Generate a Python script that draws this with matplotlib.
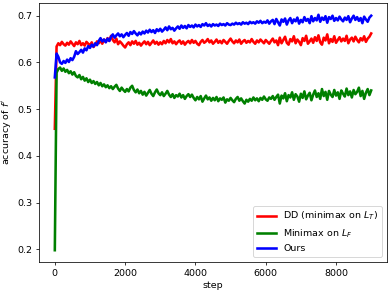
import numpy as np
import matplotlib
matplotlib.use("Agg")
import matplotlib.pyplot as plt

steps = np.arange(0, 9001, 50)

dd_acc = [
    0.458, 0.634, 0.641, 0.637, 0.644, 0.639, 0.636, 0.642, 0.638, 0.645,
    0.640, 0.635, 0.643, 0.639, 0.646, 0.637, 0.641, 0.636, 0.644, 0.640,
    0.637, 0.643, 0.633, 0.638, 0.645, 0.641, 0.647, 0.640, 0.649, 0.644,
    0.652, 0.646, 0.657, 0.648, 0.643, 0.651, 0.639, 0.645, 0.641, 0.636,
    0.632, 0.639, 0.643, 0.637, 0.645, 0.640, 0.646, 0.638, 0.642, 0.636,
    0.641, 0.645, 0.639, 0.644, 0.637, 0.642, 0.647, 0.640, 0.644, 0.638,
    0.643, 0.639, 0.646, 0.641, 0.648, 0.643, 0.650, 0.641, 0.645, 0.639,
    0.644, 0.647, 0.640, 0.645, 0.638, 0.643, 0.646, 0.641, 0.648, 0.642,
    0.646, 0.640, 0.637, 0.644, 0.648, 0.642, 0.645, 0.650, 0.643, 0.647,
    0.640, 0.644, 0.649, 0.642, 0.646, 0.641, 0.648, 0.644, 0.640, 0.646,
    0.651, 0.645, 0.641, 0.647, 0.643, 0.649, 0.640, 0.645, 0.648, 0.642,
    0.646, 0.643, 0.650, 0.644, 0.640, 0.647, 0.643, 0.649, 0.645, 0.641,
    0.648, 0.644, 0.640, 0.646, 0.651, 0.643, 0.647, 0.637, 0.653, 0.641,
    0.648, 0.655, 0.642, 0.638, 0.650, 0.645, 0.656, 0.641, 0.649, 0.644,
    0.637, 0.652, 0.646, 0.657, 0.640, 0.645, 0.651, 0.642, 0.654, 0.646,
    0.658, 0.643, 0.638, 0.653, 0.647, 0.660, 0.641, 0.650, 0.644, 0.656,
    0.642, 0.648, 0.654, 0.645, 0.651, 0.646, 0.657, 0.641, 0.649, 0.653,
    0.645, 0.655, 0.648, 0.643, 0.652, 0.647, 0.656, 0.644, 0.651, 0.655,
    0.662,
]

minimax_acc = [
    0.198, 0.578, 0.586, 0.589, 0.582, 0.587, 0.580, 0.584, 0.577, 0.581,
    0.574, 0.579, 0.571, 0.568, 0.573, 0.564, 0.569, 0.561, 0.566, 0.558,
    0.563, 0.556, 0.560, 0.554, 0.558, 0.551, 0.556, 0.549, 0.553, 0.547,
    0.551, 0.545, 0.549, 0.543, 0.548, 0.552, 0.544, 0.539, 0.546, 0.541,
    0.537, 0.543, 0.538, 0.546, 0.550, 0.541, 0.536, 0.542, 0.534, 0.539,
    0.531, 0.537, 0.529, 0.535, 0.541, 0.533, 0.528, 0.536, 0.542, 0.534,
    0.530, 0.536, 0.528, 0.533, 0.539, 0.531, 0.526, 0.532, 0.524, 0.530,
    0.527, 0.533, 0.525, 0.530, 0.522, 0.528, 0.532, 0.526, 0.531, 0.524,
    0.519, 0.526, 0.521, 0.528, 0.516, 0.523, 0.529, 0.521, 0.525, 0.518,
    0.524, 0.519, 0.526, 0.517, 0.523, 0.520, 0.525, 0.514, 0.521, 0.518,
    0.524, 0.519, 0.515, 0.522, 0.526, 0.518, 0.523, 0.517, 0.512, 0.520,
    0.516, 0.522, 0.518, 0.525, 0.519, 0.523, 0.517, 0.524, 0.520, 0.527,
    0.521, 0.518, 0.525, 0.522, 0.528, 0.520, 0.526, 0.531, 0.512, 0.529,
    0.523, 0.534, 0.517, 0.530, 0.525, 0.536, 0.520, 0.532, 0.527, 0.516,
    0.533, 0.524, 0.538, 0.521, 0.529, 0.535, 0.519, 0.531, 0.540, 0.526,
    0.534, 0.522, 0.543, 0.528, 0.537, 0.520, 0.539, 0.531, 0.526, 0.541,
    0.529, 0.536, 0.522, 0.540, 0.533, 0.527, 0.544, 0.530, 0.538, 0.525,
    0.541, 0.532, 0.537, 0.546, 0.528, 0.539, 0.522, 0.535, 0.543, 0.530,
    0.540,
]

ours_acc = [
    0.568, 0.619, 0.612, 0.600, 0.597, 0.603, 0.599, 0.606, 0.601, 0.609,
    0.605, 0.612, 0.624, 0.618, 0.622, 0.627, 0.621, 0.630, 0.626, 0.635,
    0.631, 0.638, 0.634, 0.641, 0.637, 0.646, 0.652, 0.645, 0.649, 0.643,
    0.651, 0.646, 0.655, 0.660, 0.653, 0.658, 0.662, 0.656, 0.660, 0.654,
    0.659, 0.663, 0.657, 0.665, 0.661, 0.667, 0.662, 0.658, 0.664, 0.660,
    0.666, 0.662, 0.668, 0.664, 0.670, 0.665, 0.669, 0.663, 0.671, 0.667,
    0.672, 0.666, 0.670, 0.675, 0.669, 0.677, 0.671, 0.674, 0.668, 0.673,
    0.677, 0.672, 0.679, 0.674, 0.678, 0.673, 0.680, 0.676, 0.679, 0.675,
    0.681, 0.677, 0.680, 0.676, 0.682, 0.679, 0.684, 0.678, 0.681, 0.677,
    0.682, 0.679, 0.681, 0.678, 0.683, 0.680, 0.682, 0.679, 0.684, 0.681,
    0.680, 0.683, 0.681, 0.685, 0.682, 0.684, 0.681, 0.686, 0.683, 0.685,
    0.682, 0.687, 0.684, 0.686, 0.683, 0.688, 0.685, 0.689, 0.684, 0.687,
    0.685, 0.690, 0.683, 0.688, 0.691, 0.682, 0.693, 0.686, 0.679, 0.692,
    0.687, 0.694, 0.681, 0.690, 0.695, 0.684, 0.692, 0.688, 0.696, 0.683,
    0.691, 0.686, 0.697, 0.689, 0.693, 0.684, 0.699, 0.688, 0.695, 0.690,
    0.702, 0.687, 0.696, 0.691, 0.699, 0.685, 0.697, 0.693, 0.700, 0.689,
    0.695, 0.690, 0.698, 0.692, 0.688, 0.696, 0.691, 0.699, 0.686, 0.694,
    0.700, 0.691, 0.697, 0.689, 0.695, 0.684, 0.698, 0.692, 0.687, 0.696,
    0.700,
]

dpi = 68.5
fig, ax = plt.subplots(figsize=(391 / dpi, 293 / dpi), dpi=dpi)
ax.plot(steps, dd_acc, color="red", lw=2.7, label="DD (minimax on $L_T$)")
ax.plot(steps, minimax_acc, color="green", lw=2.7, label="Minimax on $L_F$")
ax.plot(steps, ours_acc, color="blue", lw=2.7, label="Ours")
ax.set_xlabel("step")
ax.set_ylabel("accuracy of $f'$")
ax.legend(loc="lower right")
fig.subplots_adjust(left=39 / 391, right=387 / 391, top=1 - 3 / 293, bottom=1 - 262 / 293)
fig.savefig("out.png", dpi=dpi)
